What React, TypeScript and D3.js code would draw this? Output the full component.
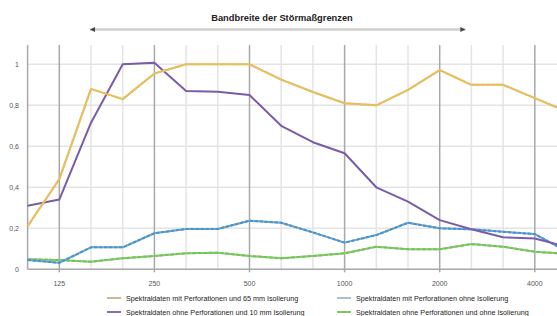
import React, { useEffect, useRef } from "react";
import * as d3 from "d3";

const bands = ["100", "125", "160", "200", "250", "315", "400", "500", "630", "800", "1000", "1250", "1600", "2000", "2500", "3150", "4000", "5000"];
const tickBands = ["125", "250", "500", "1000", "2000", "4000"];
const yTicks = [0, 0.2, 0.4, 0.6, 0.8, 1];

const perf65 = [0.21, 0.44, 0.88, 0.83, 0.955, 1.0, 1.0, 1.0, 0.925, 0.865, 0.81, 0.8, 0.875, 0.972, 0.9, 0.9, 0.835, 0.77];
const perfOhne = [0.045, 0.032, 0.107, 0.107, 0.176, 0.197, 0.197, 0.237, 0.227, 0.18, 0.13, 0.167, 0.227, 0.2, 0.195, 0.183, 0.172, 0.088];
const ohnePerf10 = [0.31, 0.34, 0.715, 1.0, 1.008, 0.87, 0.866, 0.85, 0.7, 0.62, 0.566, 0.4, 0.33, 0.24, 0.195, 0.156, 0.15, 0.11];
const ohnePerfOhne = [0.049, 0.045, 0.037, 0.054, 0.065, 0.078, 0.081, 0.065, 0.054, 0.065, 0.078, 0.11, 0.098, 0.098, 0.123, 0.11, 0.086, 0.075];

const seriesNames = [
  "Spektraldaten mit Perforationen und 65 mm Isolierung",
  "Spektraldaten mit Perforationen ohne Isolierung",
  "Spektraldaten ohne Perforationen und 10 mm Isolierung",
  "Spektraldaten ohne Perforationen und ohne Isolierung",
];

export default function App() {
  const ref = useRef<SVGSVGElement>(null);

  useEffect(() => {
    const svg = d3.select(ref.current);
    svg.selectAll("*").remove();
    const font = "Liberation Sans, Arial, sans-serif";

    const x = d3.scalePoint<string>().domain(bands).range([27.6, 566.5]);
    const y = d3.scaleLinear().domain([0, 1.1]).range([269.3, 43.8]);
    const top = 45, bottom = 269.3;

    // grid
    const g = svg.append("g");
    g.selectAll("line.h")
      .data(yTicks.slice(1))
      .enter()
      .append("line")
      .attr("x1", 27.6)
      .attr("x2", 557)
      .attr("y1", (d) => y(d))
      .attr("y2", (d) => y(d))
      .attr("stroke", "#e4e4e4")
      .attr("stroke-width", 1.5);

    g.selectAll("line.v")
      .data(bands.slice(1))
      .enter()
      .append("line")
      .attr("x1", (d) => x(d)!)
      .attr("x2", (d) => x(d)!)
      .attr("y1", top)
      .attr("y2", (d) => (tickBands.includes(d) ? bottom + 3 : bottom))
      .attr("stroke", (d) => (tickBands.includes(d) ? "#a8a8a8" : "#e4e4e4"))
      .attr("stroke-width", 1.5);

    // axes
    g.append("line").attr("x1", 27.6).attr("x2", 27.6).attr("y1", top).attr("y2", bottom)
      .attr("stroke", "#a8a8a8").attr("stroke-width", 1.5);
    g.append("line").attr("x1", 27.6).attr("x2", 557).attr("y1", bottom).attr("y2", bottom)
      .attr("stroke", "#a8a8a8").attr("stroke-width", 1.5);

    g.selectAll("text.yl")
      .data(yTicks)
      .enter()
      .append("text")
      .attr("x", 19)
      .attr("y", (d) => y(d) + 2.5)
      .attr("text-anchor", "end")
      .attr("font-family", font)
      .attr("font-size", 7)
      .attr("fill", "#555")
      .text((d) => (d === 0 || d === 1 ? String(d) : d.toFixed(1).replace(".", ",")));

    g.selectAll("text.xl")
      .data(tickBands)
      .enter()
      .append("text")
      .attr("x", (d) => x(d)!)
      .attr("y", 286)
      .attr("text-anchor", "middle")
      .attr("font-family", font)
      .attr("font-size", 7)
      .attr("fill", "#555")
      .text((d) => d);

    // bandwidth arrow + title
    const ax1 = x("160")! - 1, ax2 = x("2500")! - 6;
    svg.append("line").attr("x1", ax1).attr("x2", ax2).attr("y1", 29.5).attr("y2", 29.5)
      .attr("stroke", "#cfcfcf").attr("stroke-width", 2.5);
    [ax1, ax2].forEach((px, i) => {
      const s = i === 0 ? 1 : -1;
      svg.append("path")
        .attr("d", `M${px},29.5 L${px + s * 5},27 L${px + s * 5},32 Z`)
        .attr("fill", "#444");
    });
    svg.append("text")
      .attr("x", 282)
      .attr("y", 21)
      .attr("text-anchor", "middle")
      .attr("font-family", font)
      .attr("font-size", 9.3)
      .attr("font-weight", "bold")
      .attr("fill", "#222")
      .text("Bandbreite der Störmaßgrenzen");

    const line = d3.line<number>()
      .x((_, i) => x(bands[i])!)
      .y((d) => y(d));

    const drawSeries = (data: number[], base: string, over: string | null, dash: string) => {
      svg.append("path").datum(data).attr("d", line).attr("fill", "none")
        .attr("stroke", base).attr("stroke-width", 2).attr("stroke-linejoin", "round");
      if (over) {
        svg.append("path").datum(data).attr("d", line).attr("fill", "none")
          .attr("stroke", over).attr("stroke-width", 2).attr("stroke-dasharray", dash)
          .attr("stroke-linejoin", "round");
      }
    };

    drawSeries(ohnePerfOhne, "#9dbf90", "#6ccb4a", "4,1.5");
    drawSeries(perfOhne, "#8aa3b8", "#3d97db", "3.5,1.5");
    drawSeries(ohnePerf10, "#7a5ca8", null, "");
    drawSeries(perf65, "#c9b99a", "#f6c23e", "3.5,1.5");

    // legend
    const legend = [
      { name: seriesNames[0], color: "#c9b99a", lx: 107, ly: 298 },
      { name: seriesNames[1], color: "#a9c0d6", lx: 337, ly: 298 },
      { name: seriesNames[2], color: "#8c6cc0", lx: 107, ly: 312 },
      { name: seriesNames[3], color: "#7ccb5a", lx: 337, ly: 312 },
    ];
    const lg = svg.selectAll("g.lg").data(legend).enter().append("g");
    lg.append("line")
      .attr("x1", (d) => d.lx).attr("x2", (d) => d.lx + 14)
      .attr("y1", (d) => d.ly).attr("y2", (d) => d.ly)
      .attr("stroke", (d) => d.color).attr("stroke-width", 2);
    lg.append("text")
      .attr("x", (d) => d.lx + 19)
      .attr("y", (d) => d.ly + 2.5)
      .attr("font-family", font)
      .attr("font-size", 7.2)
      .attr("fill", "#222")
      .text((d) => d.name);
  }, []);

  return (
    <svg
      ref={ref}
      width={557}
      height={316}
      style={{ position: "absolute", left: 0, top: 0, background: "#fff" }}
    />
  );
}
